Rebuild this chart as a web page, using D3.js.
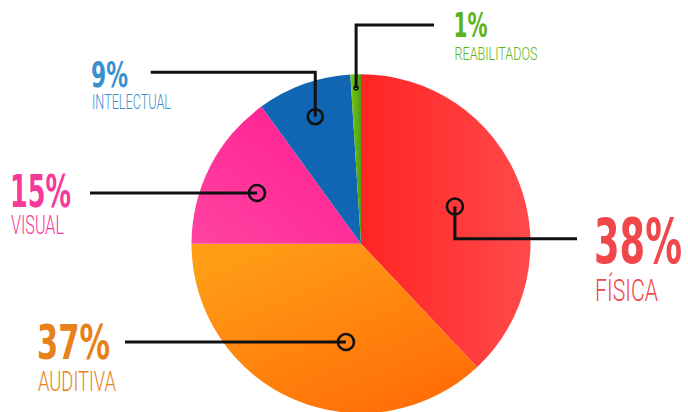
<!DOCTYPE html>
<html><head><meta charset="utf-8">
<script src="https://cdn.jsdelivr.net/npm/d3@7"></script>
<style>html,body{margin:0;padding:0;background:#fff;overflow:hidden}</style>
</head><body>
<svg id="c" width="688" height="412"></svg>
<script>
// ---- data ----
const categories = ["FÍSICA", "AUDITIVA", "VISUAL", "INTELECTUAL", "REABILITADOS"];
const values = [38, 37, 15, 9, 1];
const percentLabels = ["38%", "37%", "15%", "9%", "1%"];
const textColors = ["#f0474a", "#e9811b", "#f7399a", "#3a90cf", "#5cb31a"];
const gradStops = [["#ff2424", "#ff4a4a"], ["#ff9e16", "#ff6a06"], ["#ff1a8e", "#ff44a2"], ["#1166b3", "#1166b3"], ["#7cc816", "#4d9e12"]];
const gradDirs = [[0,0,1,0],[0.2,0,0.9,1],[1,0,0,1],[0,0,1,1],[0,0,1,0]];

// ---- layout ----
const W = 688, H = 412, cx = 361, cy = 243.7, R = 169.5;
const layout = [
  {da: 0, r: 101, mr: 8, path: m => [[m[0], m[1]], [m[0], 238.7], [577, 238.7]], tx: 594, numY: 262.7, numSize: 63, numW: 88, labY: 300.7, labSize: 31, labW: 63},
  {da: -14.7, r: 99.4, mr: 8, path: m => [[m[0], m[1]], [125, m[1]]], tx: 37, numY: 359.3, numSize: 48, numW: 73, labY: 390.7, labSize: 28, labW: 78},
  {da: -1, r: 115.7, mr: 8, path: m => [[m[0], m[1]], [90, m[1]]], tx: 10, numY: 206.7, numSize: 44, numW: 61, labY: 234, labSize: 25, labW: 53},
  {da: 0, r: 135, mr: 7.5, path: m => [[m[0], m[1]], [m[0], 72.3], [150.7, 72.3]], tx: 91, numY: 87.3, numSize: 36, numW: 37, labY: 109, labSize: 21, labW: 79},
  {da: 0, r: 155.8, mr: 2, path: m => [[m[0], m[1]], [m[0], 25], [434, 25]], tx: 453.5, numY: 36.7, numSize: 34, numW: 34, labY: 60, labSize: 18, labW: 83}
];

const svg = d3.select("#c");
const defs = svg.append("defs");
gradStops.forEach((s, i) => {
  const g = defs.append("linearGradient").attr("id", "g" + i)
    .attr("x1", gradDirs[i][0]).attr("y1", gradDirs[i][1]).attr("x2", gradDirs[i][2]).attr("y2", gradDirs[i][3]);
  g.append("stop").attr("offset", 0).attr("stop-color", s[0]);
  g.append("stop").attr("offset", 1).attr("stop-color", s[1]);
});

const pie = d3.pie().sort(null).value(d => d)(values);
const arc = d3.arc().innerRadius(0).outerRadius(R);
const g = svg.append("g").attr("transform", `translate(${cx},${cy})`);
g.selectAll("path.slice").data(pie).join("path").attr("class", "slice")
  .attr("d", arc).attr("fill", (d, i) => `url(#g${i})`);

function fitText(sel, x, w) {
  const nat = sel.node().getComputedTextLength();
  sel.attr("x", 0).attr("transform", `translate(${x},0) scale(${w / nat},1)`);
}

const line = d3.line();
const lg = svg.append("g");
pie.forEach((d, i) => {
  const L = layout[i];
  const a = (d.startAngle + d.endAngle) / 2 + L.da * Math.PI / 180;
  const m = [cx + L.r * Math.sin(a), cy - L.r * Math.cos(a)];
  lg.append("path").attr("d", line(L.path(m))).attr("fill", "none")
    .attr("stroke", "#111").attr("stroke-width", 3);
  lg.append("circle").attr("cx", m[0]).attr("cy", m[1]).attr("r", L.mr)
    .attr("fill", "none").attr("stroke", "#111").attr("stroke-width", i === 4 ? 1.5 : 2.6);
  const t1 = lg.append("text").attr("y", L.numY).text(percentLabels[i])
    .attr("font-family", "DejaVu Sans Condensed, DejaVu Sans").attr("font-weight", "bold")
    .attr("font-size", L.numSize).attr("fill", textColors[i]);
  fitText(t1, L.tx, L.numW);
  const t2 = lg.append("text").attr("y", L.labY).text(categories[i])
    .attr("font-family", "Roboto, Liberation Sans").attr("font-weight", 300)
    .attr("font-size", L.labSize).attr("fill", textColors[i]);
  fitText(t2, L.tx + 1, L.labW);
});
</script>
</body></html>
